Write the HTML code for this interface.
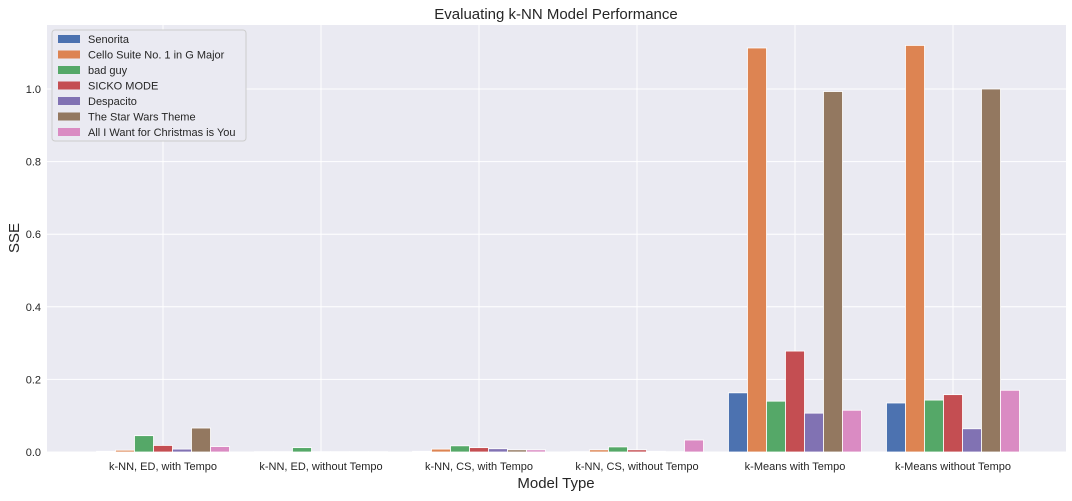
<!DOCTYPE html>
<html><head><meta charset="utf-8"><style>
body{margin:0;background:#fff;font-family:"Liberation Sans",sans-serif}
svg text{font-family:"Liberation Sans",sans-serif;fill:#262626}
</style></head><body>
<svg id="chart" width="1072" height="496">
<text x="556" y="19" font-size="15" text-anchor="middle">Evaluating k-NN Model Performance</text>
<rect x="47" y="25" width="1019" height="427" fill="#eaeaf2"/>
<g id="grid"></g><g id="bars"></g><g id="ticks"></g>
<text x="556" y="488" font-size="15" text-anchor="middle">Model Type</text>
<text transform="translate(19,238) rotate(-90)" font-size="15" text-anchor="middle">SSE</text>
<g id="legend"></g>
</svg>
<script>
const categories=["k-NN, ED, with Tempo","k-NN, ED, without Tempo","k-NN, CS, with Tempo","k-NN, CS, without Tempo","k-Means with Tempo","k-Means without Tempo"];
const seriesNames=["Senorita","Cello Suite No. 1 in G Major","bad guy","SICKO MODE","Despacito","The Star Wars Theme","All I Want for Christmas is You"];
const senorita=[0.002,0.001,0.002,0.001,0.163,0.135];
const cello=[0.005,0.001,0.008,0.006,1.113,1.12];
const badGuy=[0.045,0.012,0.017,0.014,0.14,0.143];
const sicko=[0.018,0.001,0.012,0.006,0.278,0.158];
const despacito=[0.008,0.001,0.009,0.002,0.107,0.064];
const starWars=[0.066,0.001,0.006,0.001,0.993,1.0];
const christmas=[0.015,0.001,0.006,0.033,0.115,0.17];
const yTicks=[0,0.2,0.4,0.6,0.8,1.0];
const yTickLabels=["0.0","0.2","0.4","0.6","0.8","1.0"];
const series=[senorita,cello,badGuy,sicko,despacito,starWars,christmas];
const colors=["#4c72b0","#dd8452","#55a868","#c44e52","#8172b3","#937860","#da8bc3"];
const NS="http://www.w3.org/2000/svg";
const y=v=>452-v*363;
const x=i=>163+158*i;
const bw=19;
function mk(t,a,p){const e=document.createElementNS(NS,t);for(const k in a)e.setAttribute(k,a[k]);p.appendChild(e);return e;}
const grid=document.getElementById('grid'),ticks=document.getElementById('ticks'),bars=document.getElementById('bars'),leg=document.getElementById('legend');
yTicks.forEach((v,i)=>{
 const l=mk('line',{x1:47,x2:1066,y1:y(v),y2:y(v),stroke:'#fff','stroke-width':1},grid);
 
 
 const t=mk('text',{x:41,y:y(v)+4,'font-size':11,'text-anchor':'end'},ticks);
 t.textContent=yTickLabels[i];
 
 
});
categories.forEach((c,i)=>{
 const l=mk('line',{x1:x(i),x2:x(i),y1:25,y2:452,stroke:'#fff','stroke-width':1},grid);
 
 
 const t=mk('text',{x:x(i),y:470,'font-size':11,'text-anchor':'middle'},ticks);
 t.textContent=c;
 
 
});
series.forEach((s,j)=>{
 s.forEach((v,i)=>{
  const bx=x(i)-3.5*bw+j*bw;
  const r=mk('rect',{x:bx,y:y(v),width:bw,height:452-y(v),fill:colors[j],stroke:'#fff','stroke-width':0.8},bars);
  
  
 });
});
const lb=mk('rect',{x:52,y:30,width:194,height:111,fill:'#eaeaf2',stroke:'#ccc',rx:3},leg);


seriesNames.forEach((n,j)=>{
 const g=mk('g',{},leg);
 
 
 mk('rect',{x:58,y:35+j*15.5,width:22,height:8,fill:colors[j]},g);
 const t=mk('text',{x:88,y:43+j*15.5,'font-size':11},g);
 t.textContent=n;
});
</script>
</body></html>
